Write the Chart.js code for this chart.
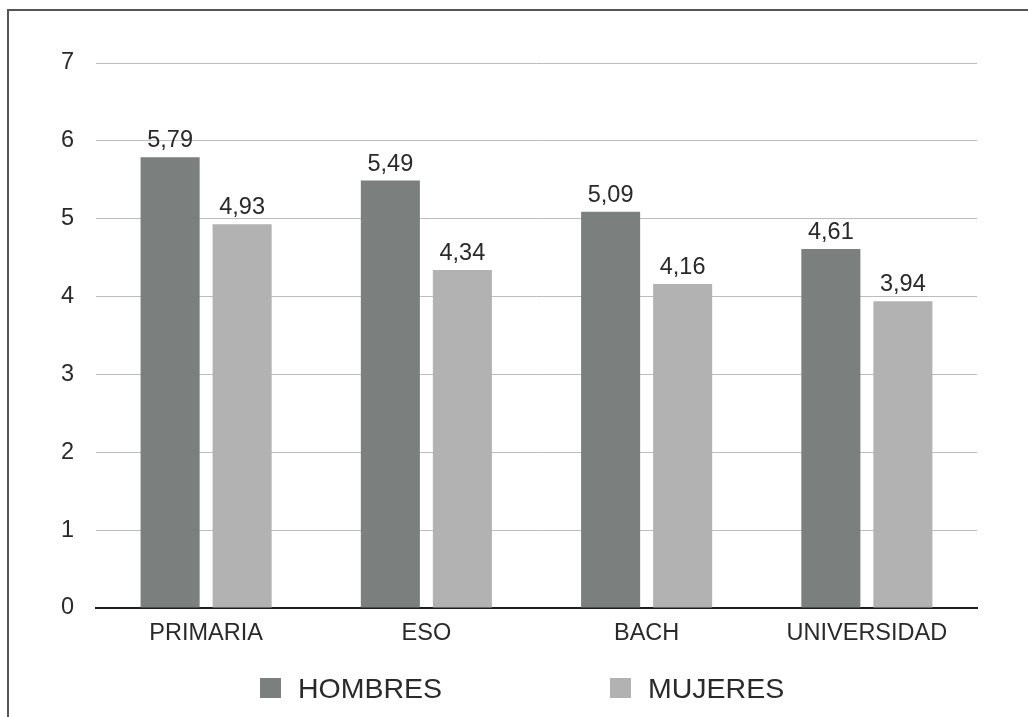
<!DOCTYPE html>
<html>
<head>
<meta charset="utf-8">
<script src="https://cdn.jsdelivr.net/npm/chart.js@4.4.0/dist/chart.umd.min.js"></script>
<style>
    html, body { margin: 0; padding: 0; background: #fff; overflow: hidden; }
    body { width: 1028px; height: 717px; position: relative; font-family: "Liberation Sans", Arial, sans-serif; }
    .frame {
        position: absolute; left: 7px; top: 9px; width: 1200px; height: 900px;
        border-top: 2px solid #555; border-left: 2px solid #555;
    }
    .chart-box { position: absolute; left: 0; top: 0; width: 1028px; height: 717px; }
    .legend { position: absolute; top: 672px; left: 0; width: 1028px; height: 32px; }
    .legend .item { position: absolute; top: 0; display: flex; align-items: center; height: 32px; }
    .legend .swatch { width: 21px; height: 20px; margin-right: 17px; }
    .legend .text { font-size: 28.5px; color: #2a2a2a; }
</style>
</head>
<body>
<div class="frame"></div>
<div class="chart-box"><canvas id="barChart" width="1028" height="717"></canvas></div>
<div class="legend" id="legend"></div>
<script>
const CATEGORIES = ['PRIMARIA', 'ESO', 'BACH', 'UNIVERSIDAD'];
const SERIES_NAMES = ['HOMBRES', 'MUJERES'];
const HOMBRES = [5.79, 5.49, 5.09, 4.61];
const MUJERES = [4.93, 4.34, 4.16, 3.94];
const Y_TICKS = [0, 1, 2, 3, 4, 5, 6, 7];

const COLORS = {
    dark: '#7b7f7d',
    light: '#b2b2b2',
    grid: '#bdbdbd',
    axis: '#1e1e1e',
    text: '#2a2a2a',
};

const FONT = '"Liberation Sans", Arial, sans-serif';

function formatValue(v) {
    return v.toFixed(2).replace('.', ',');
}

// draws the value above every bar
const valueLabels = {
    id: 'valueLabels',
    afterDatasetsDraw(chart) {
        const ctx = chart.ctx;
        ctx.save();
        ctx.font = '23.5px ' + FONT;
        ctx.fillStyle = COLORS.text;
        ctx.textAlign = 'center';
        ctx.textBaseline = 'alphabetic';
        chart.data.datasets.forEach((ds, i) => {
            chart.getDatasetMeta(i).data.forEach((bar, j) => {
                ctx.fillText(formatValue(ds.data[j]), bar.x, bar.y - 10);
            });
        });
        ctx.restore();
    }
};

const ctx = document.getElementById('barChart').getContext('2d');
const chart = new Chart(ctx, {
    type: 'bar',
    data: {
        labels: CATEGORIES,
        datasets: [
            { label: SERIES_NAMES[0], data: HOMBRES, backgroundColor: COLORS.dark },
            { label: SERIES_NAMES[1], data: MUJERES, backgroundColor: COLORS.light }
        ]
    },
    options: {
        responsive: false,
        animation: false,
        categoryPercentage: 0.654,
        barPercentage: 0.82,
        layout: { padding: { top: 63, right: 51, bottom: 59, left: 0 } },
        plugins: {
            legend: { display: false },
            tooltip: { enabled: false }
        },
        scales: {
            x: {
                grid: { display: false, drawTicks: false },
                border: { display: true, color: COLORS.axis, width: 2 },
                ticks: { color: COLORS.text, font: { family: FONT, size: 23.5 }, padding: 11 },
                afterFit: s => { s.height = 50; }
            },
            y: {
                min: 0,
                max: 7,
                afterBuildTicks: s => { s.ticks = Y_TICKS.map(v => ({ value: v })); },
                grid: { color: COLORS.grid, drawTicks: false },
                border: { display: false },
                ticks: { color: COLORS.text, font: { family: FONT, size: 23.5 }, padding: 22 },
                afterFit: s => { s.width = 96; }
            }
        }
    },
    plugins: [valueLabels]
});

// legend below the chart
const legendPos = [260, 610];
const legendColors = [COLORS.dark, COLORS.light];
document.getElementById('legend').innerHTML = SERIES_NAMES.map((name, i) => `
    <div class="item" style="left:${legendPos[i]}px">
        <div class="swatch" style="background:${legendColors[i]}"></div>
        <div class="text">${name}</div>
    </div>`).join('');
</script>
</body>
</html>
